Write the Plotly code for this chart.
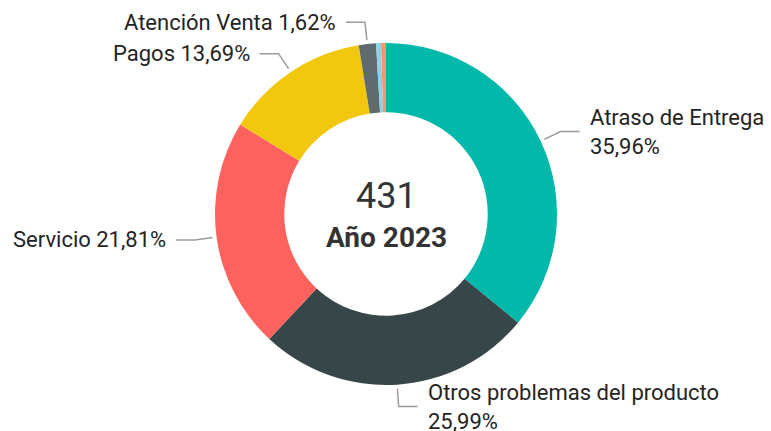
import math

import plotly.graph_objects as go

# data
categories = [
    "Atraso de Entrega",
    "Otros problemas del producto",
    "Servicio",
    "Pagos",
    "Atención Venta",
    "Garantía",
    "Devoluciones",
]
counts = [155, 112, 94, 59, 7, 2, 2]
colors = ["#01B8AA", "#374649", "#FD625E", "#F2C80F", "#5F6B6D", "#8AD4EB", "#FE9666"]
show_label = [True, True, True, True, True, False, False]
year_label = "Año 2023"

W, H = 771, 431
CX, CY, R = 386, 214, 171
HOLE = 0.595
FONT = "Roboto"
TEXT_COLOR = "#252423"
LINE_COLOR = "#9c9c9c"


def px(x):
    return x / W


def py(y):
    return 1 - y / H


total = sum(counts)

fig = go.Figure(
    go.Pie(
        labels=categories,
        values=counts,
        marker=dict(colors=colors, line=dict(width=0)),
        hole=HOLE,
        sort=False,
        direction="clockwise",
        rotation=0,
        textinfo="none",
        domain=dict(x=[px(CX - R), px(CX + R)], y=[py(CY + R), py(CY - R)]),
        hovertemplate="%{label}: %{value} (%{percent})<extra></extra>",
    )
)

shapes = []
annotations = []
cum = 0
for name, val, show in zip(categories, counts, show_label):
    frac_mid = (cum + val / 2) / total
    cum += val
    if not show:
        continue
    ang = 2 * math.pi * frac_mid
    sx, sy = math.sin(ang), -math.cos(ang)
    x0, y0 = CX + (R + 4) * sx, CY + (R + 4) * sy
    x1, y1 = CX + (R + 22) * sx, CY + (R + 22) * sy
    side = 1 if sx > 0 else -1
    x2 = x1 + 19 * side
    shapes.append(
        dict(
            type="path",
            xref="paper",
            yref="paper",
            path=f"M {px(x0)},{py(y0)} L {px(x1)},{py(y1)} L {px(x2)},{py(y1)}",
            line=dict(color=LINE_COLOR, width=1.5),
        )
    )
    pct = f"{100 * val / total:.2f}".replace(".", ",") + "%"
    text = f"{name}<br>{pct}" if side > 0 else f"{name} {pct}"
    annotations.append(
        dict(
            x=px(x2 + 8 * side),
            y=py(y1),
            xref="paper",
            yref="paper",
            text=text,
            showarrow=False,
            xanchor="left" if side > 0 else "right",
            yanchor="middle",
            align="left" if side > 0 else "right",
            font=dict(family=FONT, size=22, color=TEXT_COLOR),
        )
    )

annotations.append(
    dict(
        x=px(CX),
        y=py(196),
        xref="paper",
        yref="paper",
        text=str(total),
        showarrow=False,
        font=dict(family=FONT, size=36, color="#333333"),
    )
)
annotations.append(
    dict(
        x=px(CX),
        y=py(238),
        xref="paper",
        yref="paper",
        text=f"<b>{year_label}</b>",
        showarrow=False,
        font=dict(family=FONT, size=28, color="#333333"),
    )
)

fig.update_layout(
    width=W,
    height=H,
    margin=dict(l=0, r=0, t=0, b=0),
    paper_bgcolor="white",
    plot_bgcolor="white",
    showlegend=False,
    shapes=shapes,
    annotations=annotations,
    font=dict(family=FONT, color=TEXT_COLOR),
)

fig.write_html(
    "out.html",
    config={"displayModeBar": False},
    post_script="document.body.style.margin='0';",
)
